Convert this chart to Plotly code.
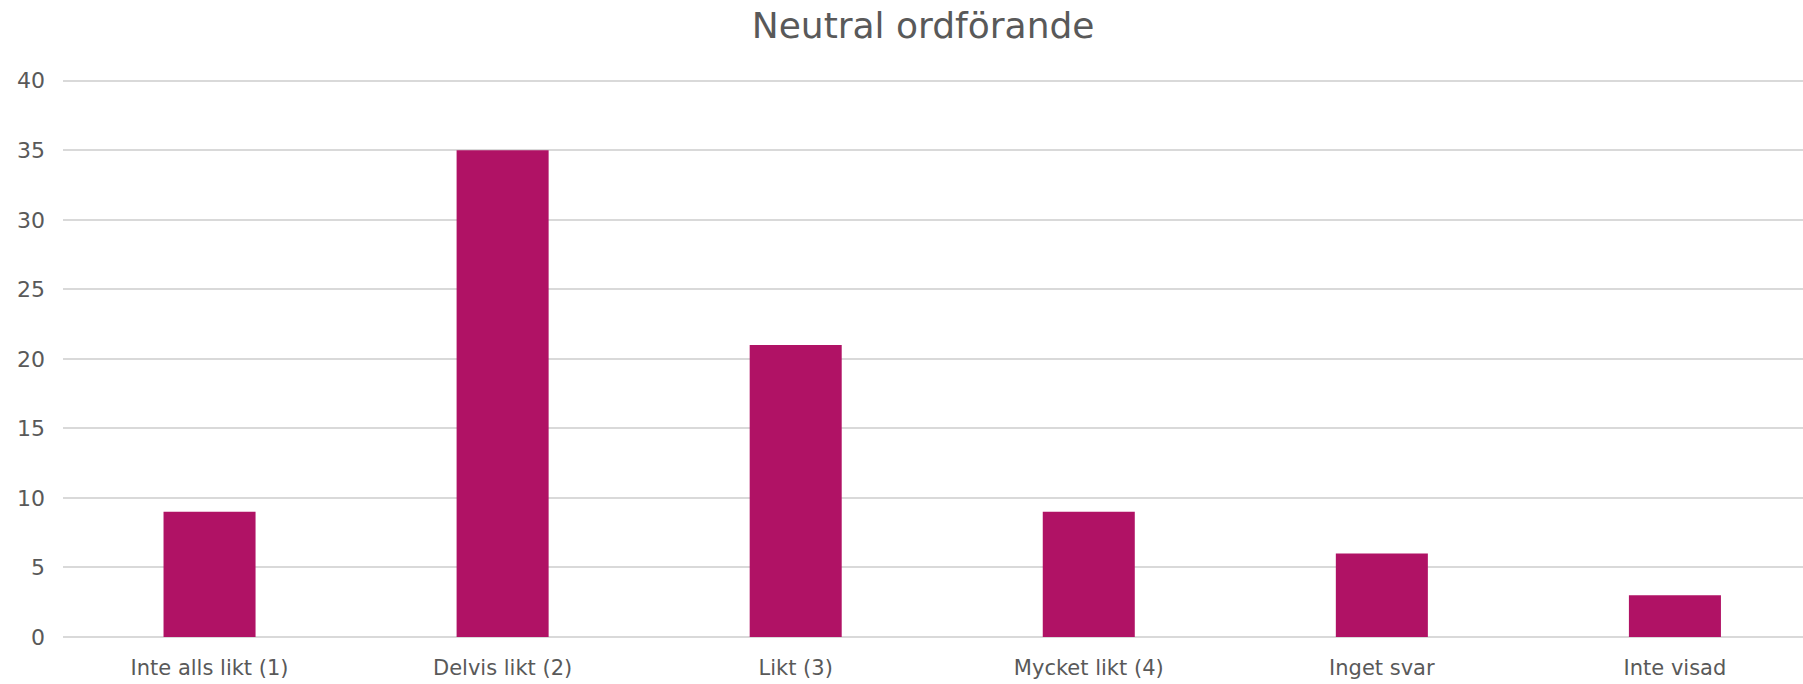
import plotly.graph_objects as go

categories = ["Inte alls likt (1)", "Delvis likt (2)", "Likt (3)", "Mycket likt (4)", "Inget svar", "Inte visad"]
values = [9, 35, 21, 9, 6, 3]
y_ticks = [0, 5, 10, 15, 20, 25, 30, 35, 40]

FONT = "DejaVu Sans"
GREY = "#595959"

fig = go.Figure(go.Bar(x=categories, y=values, marker=dict(color="#B01265", line=dict(width=0))))

fig.update_layout(
    width=1803, height=684,
    paper_bgcolor="white", plot_bgcolor="white",
    margin=dict(l=63, r=0, t=78, b=47),
    bargap=0.686,
    showlegend=False,
    title=dict(text="Neutral ordförande", x=0.512, xanchor="center", y=0.963, yanchor="middle",
               font=dict(family=FONT, size=36, color=GREY)),
    font=dict(family=FONT, color=GREY),
)
fig.update_yaxes(range=[0, 40.2], tickvals=y_ticks, showgrid=True, gridcolor="#D9D9D9", gridwidth=1.5,
                 zeroline=True, zerolinecolor="#D9D9D9", zerolinewidth=1.5,
                 tickfont=dict(family=FONT, size=22, color=GREY), ticks="", ticklabelstandoff=17, showline=False)
fig.update_xaxes(range=[-0.5, 5.437], showgrid=False, showline=False, ticks="",
                 tickfont=dict(family=FONT, size=21, color=GREY), ticklabelstandoff=16)

fig.write_html("out.html", config={"displayModeBar": False},
               post_script="document.body.style.margin='0';")
